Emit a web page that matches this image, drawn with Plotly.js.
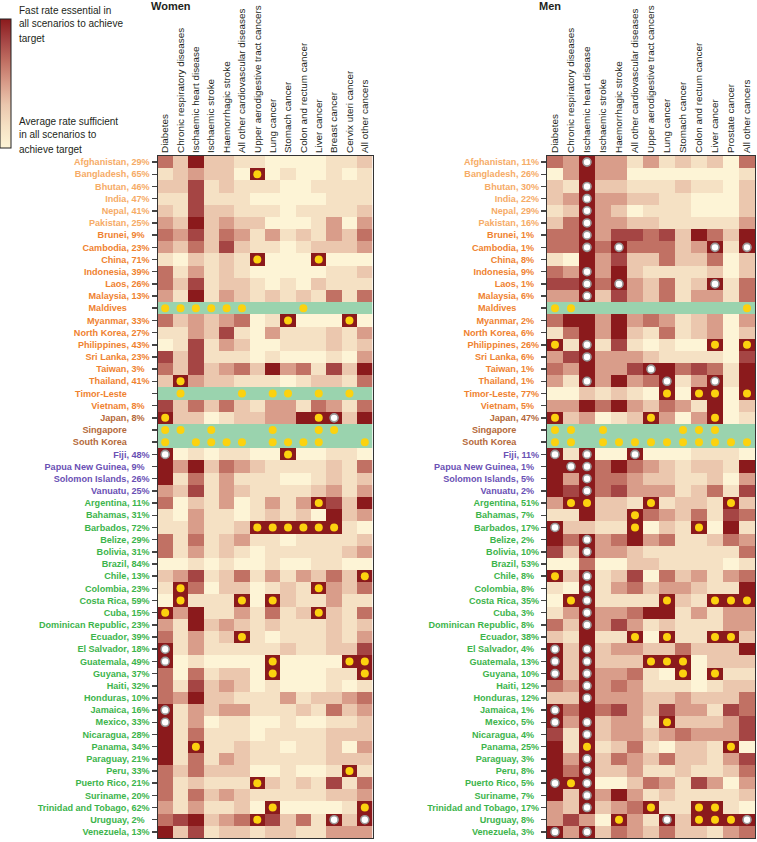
<!DOCTYPE html>
<html><head><meta charset="utf-8">
<script src="https://cdn.plot.ly/plotly-3.0.1.min.js"></script>
<style>html,body{margin:0;padding:0;background:#fff}#chart{width:757px;height:842px}</style>
</head><body><div id="chart"></div>
<script>
const countries = ['Afghanistan','Bangladesh','Bhutan','India','Nepal','Pakistan','Brunei','Cambodia','China','Indonesia','Laos','Malaysia','Maldives','Myanmar','North Korea','Philippines','Sri Lanka','Taiwan','Thailand','Timor-Leste','Vietnam','Japan','Singapore','South Korea','Fiji','Papua New Guinea','Solomon Islands','Vanuatu','Argentina','Bahamas','Barbados','Belize','Bolivia','Brazil','Chile','Colombia','Costa Rica','Cuba','Dominican Republic','Ecuador','El Salvador','Guatemala','Guyana','Haiti','Honduras','Jamaica','Mexico','Nicaragua','Panama','Paraguay','Peru','Puerto Rico','Suriname','Trinidad and Tobago','Uruguay','Venezuela'];
const regions = ['SA','SA','SA','SA','SA','SA','SEA','SEA','SEA','SEA','SEA','SEA','SEA','SEA','SEA','SEA','SEA','SEA','SEA','SEA','SEA','HI','HI','HI','OC','OC','OC','OC','LA','LA','LA','LA','LA','LA','LA','LA','LA','LA','LA','LA','LA','LA','LA','LA','LA','LA','LA','LA','LA','LA','LA','LA','LA','LA','LA','LA'];
const regionColors = {SA:'#f6ab66', SEA:'#ef8230', HI:'#b4693a', OC:'#6a50b4', LA:'#3cb44b'};
const pctWomen = [29,65,46,47,41,25,9,23,71,39,26,13,null,33,27,43,23,3,41,null,8,8,null,null,48,9,26,25,11,31,72,29,31,84,13,23,59,15,23,39,18,49,37,32,10,16,33,28,34,21,33,21,20,62,2,13];
const pctMen = [11,26,30,22,29,16,1,1,8,9,1,6,null,2,6,26,6,1,1,77,5,47,null,null,11,1,5,2,51,7,17,2,10,53,8,8,35,3,8,38,4,13,10,12,12,1,5,4,25,3,8,5,7,17,8,3];
const causesWomen = ['Diabetes','Chronic respiratory diseases','Ischaemic heart disease','Ischaemic stroke','Haemorrhagic stroke','All other cardiovascular diseases','Upper aerodigestive tract cancers','Lung cancer','Stomach cancer','Colon and rectum cancer','Liver cancer','Breast cancer','Cervix uteri cancer','All other cancers'];
const causesMen = ['Diabetes','Chronic respiratory diseases','Ischaemic heart disease','Ischaemic stroke','Haemorrhagic stroke','All other cardiovascular diseases','Upper aerodigestive tract cancers','Lung cancer','Stomach cancer','Colon and rectum cancer','Liver cancer','Prostate cancer','All other cancers'];
// urgency level 0 (average rate sufficient) .. 6 (fast rate essential); null = target already met (green row)
const zWomen = [
[4,2,6,2,2,1,1,0,0,0,0,1,1,2],[1,2,3,2,2,0,6,0,1,0,0,1,0,1],[2,2,5,1,2,1,1,1,0,0,1,1,1,1],[1,1,5,1,1,1,0,0,0,0,0,1,1,1],
[2,1,5,2,2,1,1,1,0,1,1,1,1,2],[3,2,6,2,3,2,2,0,0,0,1,3,0,3],[4,3,5,2,4,3,1,3,1,2,1,3,2,4],[3,2,4,2,5,2,1,1,0,1,2,2,2,3],
[1,0,2,1,2,1,6,0,0,0,6,0,0,0],[4,1,3,1,2,1,0,0,0,0,0,1,1,2],[4,2,5,1,2,2,1,0,1,0,2,1,1,1],[3,1,6,1,3,2,1,2,1,2,1,4,1,4],
null,[4,2,3,2,3,4,0,1,6,0,0,0,6,0],[1,1,3,2,5,1,0,3,1,1,1,2,1,3],[0,1,5,1,3,2,0,0,1,1,1,2,1,2],
[5,2,5,1,1,1,0,1,0,0,0,1,0,3],[4,2,5,2,3,4,2,6,3,4,1,5,2,6],[2,6,3,2,2,1,1,1,0,1,2,2,1,4],null,
[5,2,4,2,4,2,1,3,3,1,4,3,1,4],[6,2,2,0,1,2,2,3,3,6,6,6,2,6],null,null,
[6,0,1,0,1,1,0,0,6,0,0,1,1,0],[6,3,6,2,4,3,2,1,1,1,1,2,1,4],[6,1,4,1,3,1,1,1,0,0,1,2,1,2],[3,2,5,1,3,2,1,1,1,1,2,3,1,3],
[4,0,2,1,3,0,1,3,1,3,6,5,2,6],[1,0,3,1,1,0,1,2,1,2,0,6,2,3],[1,1,3,1,1,2,6,6,6,6,6,6,1,0],[4,1,4,1,2,3,1,1,0,1,1,1,1,2],
[4,1,3,1,2,1,0,1,1,1,1,1,2,3],[0,0,1,0,1,0,0,1,0,0,1,1,0,0],[2,3,5,1,2,4,1,3,1,3,2,4,2,6],[1,6,4,0,2,2,0,1,2,1,6,3,2,4],
[0,6,1,1,1,6,0,6,2,1,1,3,1,1],[6,3,6,1,1,3,1,4,1,2,6,2,1,4],[3,1,6,2,3,2,1,2,1,1,1,2,1,2],[4,1,3,1,2,6,1,0,1,1,1,2,1,3],
[6,1,3,1,1,1,1,1,2,1,1,2,2,5],[6,0,1,0,0,0,0,6,0,0,0,0,6,6],[4,0,4,1,2,2,0,6,0,0,0,1,1,6],[4,1,5,2,3,2,0,1,0,0,0,1,0,1],
[4,3,6,2,2,1,1,1,3,1,2,2,3,4],[6,1,3,2,3,3,1,1,1,2,1,4,2,3],[6,1,3,0,1,1,0,0,1,0,0,1,1,2],[6,1,4,1,1,1,0,1,1,1,1,2,2,2],
[6,1,6,1,1,2,1,1,0,1,1,2,0,3],[6,1,4,1,3,2,1,1,1,1,1,2,2,2],[4,2,4,2,2,2,0,0,1,0,0,1,6,1],[4,1,2,1,1,1,6,2,1,2,1,5,1,4],
[4,1,4,2,3,2,1,1,1,1,1,2,2,3],[3,1,3,1,1,2,0,6,0,0,0,0,1,6],[4,5,6,2,3,4,6,5,2,4,1,6,2,6],[6,2,5,1,2,2,1,2,2,1,1,3,3,3]
];
// Y = yellow dot, W = white dot, . = none
const dotsWomen = [
'..............','......Y.......','..............','..............','..............','..............','..............','..............',
'......Y...Y...','..............','..............','..............','YYYYYY...Y....','........Y...Y.','..............','..............',
'..............','..............','.Y............','.Y...Y.YY.Y.Y.','..............','Y.........YW..','YY.Y...Y..YY..','Y.YYYY.YYYY..Y',
'W.......Y.....','..............','..............','..............','..........Y...','..............','......YYYYYY..','..............',
'..............','..............','.............Y','.Y........Y...','.Y...Y.Y......','Y.........Y...','..............','.....Y........',
'W.............','W......Y....YY','.......Y.....Y','..............','..............','W.............','W.............','..............',
'..Y...........','..............','............Y.','......Y.......','..............','.......Y.....Y','......Y....W.W','..............'
];
const zMen = [
[4,3,6,3,3,1,3,1,2,1,2,0,4],[0,3,6,3,3,0,0,0,0,0,0,0,1],[2,1,6,2,2,1,1,1,2,1,1,0,2],[2,3,6,3,3,2,2,1,1,0,0,0,2],
[1,2,6,3,2,0,1,1,1,0,0,0,2],[2,4,6,3,3,2,2,1,1,1,1,1,3],[4,4,6,3,5,5,4,5,2,6,4,2,6],[4,4,6,4,6,4,4,4,2,3,6,1,6],
[1,0,6,3,5,2,2,4,2,2,4,0,2],[4,3,6,3,6,2,1,1,1,1,2,0,2],[5,5,6,4,6,3,2,4,1,2,6,1,4],[3,3,6,2,5,3,2,4,1,3,3,1,4],
null,[4,6,6,3,6,3,4,3,1,2,3,0,3],[1,4,6,3,6,2,1,4,1,2,3,0,2],[6,1,6,1,5,1,0,1,0,0,6,0,6],
[3,5,6,3,3,3,2,1,1,1,1,0,5],[4,3,6,3,3,5,6,6,4,5,4,1,6],[3,1,6,3,6,3,4,6,1,3,6,1,6],[0,0,2,1,2,1,0,6,0,6,6,0,6],
[3,3,6,4,6,3,2,4,3,1,6,0,2],[6,2,3,0,1,2,6,3,0,3,6,0,1],null,null,
[6,1,6,0,0,6,0,0,0,1,1,1,0],[6,6,6,4,6,4,3,2,1,2,2,1,6],[6,3,6,4,4,3,2,2,1,1,2,0,3],[6,5,6,4,5,3,3,3,1,2,4,1,5],
[3,6,6,2,2,1,6,1,2,2,1,6,2],[1,1,6,2,2,6,4,3,2,4,1,5,4],[6,2,2,1,1,6,0,2,1,6,0,6,1],[6,4,6,3,4,6,3,4,1,1,2,4,3],
[5,2,6,3,3,2,1,1,1,1,1,1,4],[0,0,4,0,0,2,2,1,1,1,1,0,1],[6,2,6,1,2,5,0,4,2,3,1,3,4],[1,0,6,1,3,4,2,3,3,2,1,1,6],
[0,6,6,1,1,1,1,6,2,1,6,6,6],[1,3,6,3,3,4,6,6,1,3,1,3,3],[4,2,6,3,5,3,1,2,1,1,1,3,3],[2,1,6,1,1,6,0,6,1,1,6,6,2],
[6,2,6,2,3,3,2,2,4,2,2,2,6],[6,2,6,2,2,2,6,6,6,0,2,2,2],[6,2,6,3,3,4,1,0,6,0,6,1,1],[4,3,6,3,4,3,1,1,1,0,1,2,2],
[2,2,6,3,3,3,2,2,3,2,2,2,4],[6,4,6,4,5,3,2,5,3,3,1,5,4],[6,3,6,2,3,3,1,6,2,2,2,3,5],[5,1,6,2,3,3,2,3,4,3,3,3,5],
[6,1,6,1,2,4,1,0,2,2,1,6,0],[6,3,6,2,4,3,2,4,2,2,1,3,5],[6,4,6,2,2,3,1,1,2,1,1,2,4],[6,6,6,0,0,2,4,3,1,5,3,0,3],
[6,2,6,3,6,3,1,2,1,1,1,1,2],[3,2,6,2,3,4,6,1,1,6,6,1,0],[3,5,3,0,6,3,1,6,2,6,6,6,6],[6,3,6,2,4,3,2,4,2,2,1,3,4]
];
const dotsMen = [
'..W..........','.............','..W..........','..W..........','..W..........','..W..........','..W..........','..W.W.....W.W',
'.............','..W..........','..W.W.....W..','..W..........','YY..........Y','.............','.............','Y.W.......Y.Y',
'..W..........','......W......','..W....W..W..','.......Y.YY.Y','.............','Y.....Y...Y..','YY.Y....YYY..','YY.YYYYYYYYYY',
'W.W..W.......','.WW..........','..W..........','..W..........','.YY...Y....Y.','.....Y.......','W....Y...Y...','..W..........',
'..W..........','.............','Y.W..........','..W..........','.YW....Y..YYY','..W..........','..W..........','.....Y.Y..YY.',
'W.W..........','W.W...YYY....','W.W.....Y.Y..','..W..........','..W..........','W............','W.W....Y.....','..W..........',
'..Y........Y.','..W..........','..W..........','WYW..........','..W..........','..W...Y..YY..','....Y..W.YYYW','W.W..........'
];

const H = 842, W = 757;
const F = '"Liberation Sans", Arial, sans-serif';
const NB = '\u00a0';
function makeLabels(pct) {
  return countries.map((c, i) => {
    let t;
    if (pct[i] === null) t = c + NB.repeat(9);
    else t = c + ', ' + pct[i] + '%' + (pct[i] < 10 ? NB + NB : '');
    return '<span style="color:' + regionColors[regions[i]] + '"><b>' + t + '</b></span>';
  });
}
const colorscale = [[0,'#fdf4d6'],[1/6,'#f5e1c4'],[2/6,'#ebc7ae'],[3/6,'#d99d8a'],[4/6,'#c17164'],[5/6,'#a54544'],[1,'#8b1a1c']];

function buildTraces(z, dots, causes, xa, ya, withBar) {
  const zz = z.map(r => r === null ? causes.map(() => null) : r);
  const green = z.map(r => causes.map(() => r === null ? 1 : null));
  const tr = [];
  tr.push({type:'heatmap', x:causes, y:countries, z:zz, zmin:0, zmax:6, colorscale:colorscale, xaxis:xa, yaxis:ya,
    hoverinfo:'skip', showscale:withBar,
    colorbar: withBar ? {x:0.0, xanchor:'left', xpad:0, ypad:0, y:1-19/H, yanchor:'top', len:129, lenmode:'pixels',
      thickness:11, thicknessmode:'pixels', showticklabels:false, ticks:'', outlinewidth:1, outlinecolor:'#222'} : undefined});
  tr.push({type:'heatmap', x:causes, y:countries, z:green, zmin:0, zmax:1, colorscale:[[0,'#9ad3ae'],[1,'#9ad3ae']],
    showscale:false, xaxis:xa, yaxis:ya, hoverinfo:'skip'});
  const yx=[], yy=[], wx=[], wy=[];
  dots.forEach((s, i) => { for (let j = 0; j < s.length; j++) {
    if (s[j] === 'Y') { yx.push(causes[j]); yy.push(countries[i]); }
    if (s[j] === 'W') { wx.push(causes[j]); wy.push(countries[i]); }
  }});
  tr.push({type:'scatter', mode:'markers', x:yx, y:yy, xaxis:xa, yaxis:ya, hoverinfo:'skip', showlegend:false,
    marker:{size:8, color:'#fcd20f', line:{width:0}}});
  tr.push({type:'scatter', mode:'markers', x:wx, y:wy, xaxis:xa, yaxis:ya, hoverinfo:'skip', showlegend:false,
    marker:{size:8, color:'#ffffff', line:{width:1.6, color:'#9a9a9a'}}});
  return tr;
}
const traces = buildTraces(zWomen, dotsWomen, causesWomen, 'x', 'y', true)
  .concat(buildTraces(zMen, dotsMen, causesMen, 'x2', 'y2', false));

const yDom = [1 - 838/H, 1 - 156/H];
function xAxis(dom, anchor, causes) {
  return {domain:dom, anchor:anchor, side:'top', tickangle:-90, ticks:'', showgrid:false, zeroline:false,
    type:'category', categoryorder:'array', categoryarray:causes, range:[-0.5, causes.length - 0.5], autorange:false,
    tickfont:{family:F, size:9.9, color:'#231f20'}, showline:true, mirror:true, linecolor:'#333', linewidth:1, fixedrange:true};
}
function yAxis(anchor, labels) {
  return {domain:yDom, anchor:anchor, type:'category', categoryorder:'array', categoryarray:countries,
    range:[countries.length - 0.5, -0.5], autorange:false, ticks:'outside', ticklen:5, tickwidth:1.5, tickcolor:'#444',
    tickvals:countries, ticktext:labels, tickfont:{family:F, size:9.1}, showgrid:false, zeroline:false,
    showline:true, mirror:true, linecolor:'#333', linewidth:1, fixedrange:true};
}
function ann(text, xpx, ypx, opts) {
  return Object.assign({text:text, xref:'paper', yref:'paper', x:xpx/W, y:1-ypx/H, xanchor:'left', yanchor:'middle',
    showarrow:false, font:{family:F, size:10, color:'#231f20'}}, opts || {});
}
const layout = {
  width:W, height:H, margin:{l:0, r:0, t:0, b:0}, paper_bgcolor:'#fff', plot_bgcolor:'#fff', showlegend:false,
  xaxis: xAxis([157.5/W, 372.5/W], 'y', causesWomen),
  yaxis: yAxis('x', makeLabels(pctWomen)),
  xaxis2: xAxis([547/W, 755/W], 'y2', causesMen),
  yaxis2: yAxis('x2', makeLabels(pctMen)),
  annotations: [
    ann('<b>Women</b>', 149, 6, {font:{family:F, size:11, color:'#231f20'}}),
    ann('<b>Men</b>', 537, 6, {font:{family:F, size:11, color:'#231f20'}}),
    ann('Fast rate essential in', 17, 10), ann('all scenarios to achieve', 17, 24), ann('target', 17, 38),
    ann('Average rate sufficient', 17, 121), ann('in all scenarios to', 17, 135), ann('achieve target', 17, 149)
  ]
};
Plotly.newPlot('chart', traces, layout, {staticPlot:true, displayModeBar:false});
</script></body></html>
